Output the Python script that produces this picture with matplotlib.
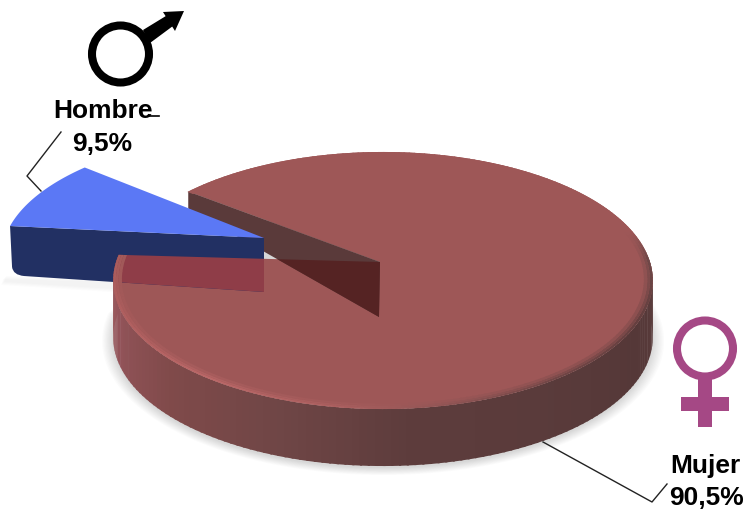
import numpy as np
import matplotlib
matplotlib.use("Agg")
import matplotlib.pyplot as plt
from matplotlib.patches import Polygon, Circle, Rectangle, PathPatch
from matplotlib.path import Path

plt.rcParams['font.family'] = ['Liberation Sans', 'DejaVu Sans']

# Data
categories = ["Hombre", "Mujer"]
shares = [9.5, 90.5]
share_labels = ["9,5%", "90,5%"]

START_ANGLE = 142.5
spans = [s * 3.6 for s in shares]
T0 = START_ANGLE
T1 = START_ANGLE + spans[0]
T2 = T1 + spans[1]

# Projection of the unit disc onto the picture
CX, RX, A, B, C = 380.0, 267.0, -88.0, 263.0, 0.144
RIM_SHIFT = 3.0
DEPTH = 57.0


def project(theta, r=1.0):
    t = np.radians(theta)
    x, y = r * np.cos(t), r * np.sin(t)
    w = 1 + C * y
    return np.column_stack([CX + RIM_SHIFT * r + RX * x / w, (A * y + B) / w])


def rgb(h):
    return np.array(matplotlib.colors.to_rgb(h))


def ramp(theta, stops):
    xs = [s[0] for s in stops]
    cols = np.array([rgb(s[1]) for s in stops])
    return tuple(np.interp(theta, xs, cols[:, i]) for i in range(3))


FACE = "#9e5757"
side_stops = [(175, "#a35b5b"), (200, "#93545a"), (225, "#804a4a"), (250, "#704646"),
              (275, "#5d3c3c"), (300, "#5a3b3b"), (330, "#553838"), (360, "#5a3c3c")]
rim_stops = [(175, "#a85c5c"), (205, "#b05f5f"), (235, "#bb6868"), (262, "#ac6060"),
             (285, "#8a5252"), (305, "#704646"), (335, "#643f3f"), (362, "#6f4848"),
             (374, FACE), (T2, FACE)]

fig = plt.figure(figsize=(7.47, 5.10), dpi=100, facecolor="white")
ax = fig.add_axes([0, 0, 1, 1])
ax.set_xlim(0, 747)
ax.set_ylim(510, 0)
ax.axis("off")

# Soft shadow beneath the big slice
th = np.linspace(T1, T2, 300)
for k in range(10):
    pts = project(th, 1.0 + 0.0045 * k) + np.array([0, DEPTH + 2])
    ax.add_patch(Polygon(pts, closed=True, fc="black", ec="none", alpha=0.016, zorder=1))

# Big slice: side strips
edges = np.linspace(T1, 362, 130)
for a0, a1 in zip(edges[:-1], edges[1:]):
    up = project(np.array([a0, a1 + 0.4]))
    low = up[::-1] + np.array([0, DEPTH])
    ax.add_patch(Polygon(np.vstack([up, low]), closed=True,
                         fc=ramp((a0 + a1) / 2, side_stops), ec="none", zorder=2))

# Big slice: top face
apex = project(0.0, 0.0)[0]
top_pts = np.vstack([[apex], project(th)])
top_face = Polygon(top_pts, closed=True, fc=FACE, ec="none", zorder=3)
ax.add_patch(top_face)

# Visible inner wall of the notch
rim0 = project(T0)[0]
wall = np.array([rim0, apex, apex + np.array([-1, 55]), rim0 + np.array([0, 17])])
ax.add_patch(Polygon(wall, closed=True, fc="#5a3a3a", ec="none", zorder=4))
wall_under = Polygon(wall, closed=True, fc="#552323", ec="none", zorder=5)
ax.add_patch(wall_under)
wall_under.set_clip_path(Polygon(top_pts, closed=True, transform=ax.transData))

# Exploded small slice
BLUE_APEX = np.array([264.0, 239.0])
BLUE_M = np.array([[0.9746, -0.108], [0.0198, 0.947]])
bth = np.linspace(T0, T1, 40)
rel = project(bth) - apex
blue_arc = rel @ BLUE_M.T + BLUE_APEX
b_end = blue_arc[-1]
shadow_verts = [b_end + np.array([-4, 50]), b_end + np.array([-6, 56]),
                b_end + np.array([150, 66]), b_end + np.array([150, 54])]
for k in range(4):
    off = np.array([-k, k])
    ax.add_patch(Polygon(np.array(shadow_verts) + off, closed=True, fc="black", ec="none",
                         alpha=0.012, zorder=1.5))

blue_side_verts = [b_end, b_end + [2, 41], b_end + [3, 49], b_end + [14, 50],
                   BLUE_APEX + [0, 54], BLUE_APEX, b_end]
blue_side_codes = [Path.MOVETO, Path.LINETO, Path.CURVE3, Path.CURVE3,
                   Path.LINETO, Path.LINETO, Path.CLOSEPOLY]
blue_side_path = Path(blue_side_verts, blue_side_codes)
ax.add_patch(PathPatch(blue_side_path, fc="#223063", ec="none", zorder=6))
ax.add_patch(Polygon(np.vstack([[BLUE_APEX], blue_arc]), closed=True,
                     fc="#5b78f5", ec="none", zorder=7))

# Big top face seen over the small slice
overlay = Polygon(top_pts, closed=True, fc="#8f3d48", ec="none", zorder=8)
ax.add_patch(overlay)
overlay.set_clip_path(PathPatch(blue_side_path, transform=ax.transData))

# Bevel on the rim of the big slice
ring_edges = np.linspace(T1, T2, 260)
for a0, a1 in zip(ring_edges[:-1], ring_edges[1:]):
    c = np.array(ramp((a0 + a1) / 2, rim_stops))
    f = rgb(FACE)
    for r_out, r_in, mix in [(1.0, 0.990, 1.0), (0.990, 0.980, 0.65), (0.980, 0.968, 0.3)]:
        aa = np.array([a0, a1 + 0.3])
        ring = np.vstack([project(aa, r_out), project(aa[::-1], r_in)])
        ax.add_patch(Polygon(ring, closed=True, fc=tuple(c * mix + f * (1 - mix)),
                             ec="none", zorder=9))

# Leader lines
ax.plot([61, 27, 41], [133, 177, 192], color="#222222", lw=1.0, zorder=10)
ax.plot([148, 159], [117, 117], color="black", lw=1.2, zorder=10)
ax.plot([543, 652, 667], [443, 503, 485], color="#222222", lw=1.0, zorder=10)

# Labels
txt = dict(fontsize=19, fontweight="bold", color="black", ha="center", va="baseline", zorder=11)
ax.text(103, 118, categories[0], **txt)
ax.text(102, 151, share_labels[0], **txt)
ax.text(705, 473, categories[1], **txt)
ax.text(707, 505, share_labels[1], **txt)

# Male symbol
ax.add_patch(Circle((120.5, 55), 28.5, fc="none", ec="black", lw=5.8, zorder=11))
ax.add_patch(Polygon([[143, 31], [170, 14.5], [177, 24], [150, 44]], closed=True,
                     fc="black", ec="none", zorder=11))
ax.add_patch(Polygon([[163, 13], [184, 12], [175, 32]], closed=True,
                     fc="black", ec="none", zorder=11))

# Female symbol
PINK = "#a54885"
ax.add_patch(Circle((705, 349.5), 28, fc="none", ec=PINK, lw=5.8, zorder=11))
ax.add_patch(Rectangle((698, 378), 14, 50, fc=PINK, ec="none", zorder=11))
ax.add_patch(Rectangle((681, 398), 48, 14, fc=PINK, ec="none", zorder=11))

fig.savefig("out.png", dpi=100, facecolor="white")
